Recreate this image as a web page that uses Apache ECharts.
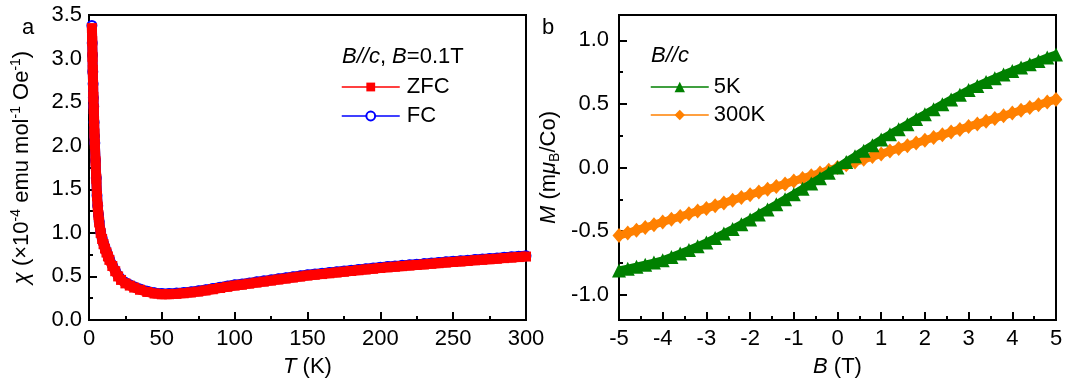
<!DOCTYPE html>
<html><head><meta charset="utf-8">
<script src="https://cdn.jsdelivr.net/npm/echarts@6/dist/echarts.min.js"></script>
<style>html,body{margin:0;padding:0;background:#fff}#c{width:1066px;height:389px}</style>
</head><body><div id="c"></div>
<script>
// ---- Panel a: susceptibility vs temperature ----
const tempK = [2,2.2,2.4,2.6,2.8,3,3.25,3.5,3.75,4,4.5,5,5.5,6,6.5,7,8,9,10,11,12,13,14,16,18,20,22,25,28,31,35,40,45,50,
  55,60,65,70,75,80,85,90,95,100,105,110,115,120,125,130,135,140,145,150,155,160,165,170,175,180,185,190,195,200,
  205,210,215,220,225,230,235,240,245,250,255,260,265,270,275,280,285,290,295,300];
const chiZFC = [3.35,3.20,3.02,2.87,2.70,2.56,2.42,2.28,2.14,2.02,1.82,1.62,1.42,1.30,1.20,1.12,1.00,0.93,0.87,0.82,0.775,0.73,0.69,0.62,0.56,0.50,0.46,0.42,0.395,0.372,0.347,0.322,0.304,0.295,
  0.296,0.300,0.307,0.316,0.326,0.339,0.353,0.367,0.381,0.395,0.405,0.417,0.429,0.44,0.452,0.464,0.475,0.487,0.498,0.51,0.519,0.527,0.536,0.545,0.554,0.562,0.571,0.58,0.588,0.597,
  0.604,0.611,0.618,0.625,0.632,0.638,0.645,0.652,0.659,0.666,0.672,0.678,0.685,0.691,0.697,0.703,0.71,0.716,0.722,0.728];
const chiFC = [3.38,3.18,3.04,2.85,2.71,2.55,2.45,2.27,2.11,2.03,1.83,1.63,1.43,1.31,1.21,1.13,1.01,0.94,0.88,0.83,0.785,0.74,0.70,0.63,0.57,0.51,0.47,0.43,0.404,0.381,0.356,0.331,0.313,0.304,
  0.305,0.309,0.316,0.325,0.335,0.348,0.362,0.376,0.39,0.404,0.414,0.426,0.438,0.449,0.461,0.473,0.484,0.496,0.507,0.519,0.528,0.536,0.545,0.554,0.563,0.571,0.58,0.589,0.597,0.606,
  0.613,0.62,0.627,0.634,0.641,0.647,0.654,0.661,0.668,0.675,0.681,0.687,0.694,0.7,0.706,0.712,0.719,0.725,0.731,0.737];

// ---- Panel b: magnetization vs field ----
const fieldT = [-5,-4.8,-4.6,-4.4,-4.2,-4,-3.8,-3.6,-3.4,-3.2,-3,-2.8,-2.6,-2.4,-2.2,-2,-1.8,-1.6,-1.4,-1.2,-1,-0.8,-0.6,-0.4,-0.2,0,
  0.2,0.4,0.6,0.8,1,1.2,1.4,1.6,1.8,2,2.2,2.4,2.6,2.8,3,3.2,3.4,3.6,3.8,4,4.2,4.4,4.6,4.8,5];
const m5K = [-0.810,-0.796,-0.781,-0.765,-0.748,-0.730,-0.704,-0.677,-0.649,-0.620,-0.590,-0.555,-0.520,-0.484,-0.447,-0.410,-0.370,-0.330,-0.290,-0.250,-0.210,-0.168,-0.126,-0.084,-0.042,0,
  0.044,0.088,0.132,0.176,0.220,0.261,0.301,0.341,0.381,0.420,0.459,0.498,0.536,0.573,0.610,0.642,0.673,0.703,0.732,0.760,0.787,0.813,0.839,0.865,0.890];
const m300K = [-0.536,-0.515,-0.493,-0.472,-0.450,-0.429,-0.407,-0.386,-0.364,-0.343,-0.322,-0.300,-0.279,-0.257,-0.236,-0.214,-0.193,-0.172,-0.150,-0.129,-0.107,-0.086,-0.064,-0.043,-0.021,0,
  0.021,0.043,0.064,0.086,0.107,0.129,0.150,0.172,0.193,0.214,0.236,0.257,0.279,0.300,0.322,0.343,0.364,0.386,0.407,0.429,0.450,0.472,0.493,0.515,0.536];

const bMajorTicks = [-1,-0.5,0,0.5,1];
const bMinorTicks = [-0.75,-0.25,0.25,0.75];

const FONT = "'Liberation Sans', Arial, sans-serif";
const FS = 22;
const black = '#000';

function pairs(xs, ys){ return xs.map((x,i)=>[x, ys[i]]); }

const rich = {
  i: {fontStyle:'italic', fontSize:FS, fontFamily:FONT, color:black},
  s: {fontSize:14, fontFamily:FONT, color:black, verticalAlign:'top', lineHeight:26},
  b: {fontSize:14, fontFamily:FONT, color:black, verticalAlign:'bottom', lineHeight:26},
  n: {fontSize:FS, fontFamily:FONT, color:black, lineHeight:26}
};
const nameStyle = {fontSize:FS, fontFamily:FONT, color:black, rich};

function baseAxis(extra){
  return Object.assign({
    axisLine:{show:true, onZero:false, lineStyle:{color:black, width:2}},
    axisTick:{show:true, inside:true, length:8, lineStyle:{color:black, width:2}},
    minorTick:{show:true, splitNumber:2, length:4, lineStyle:{color:black, width:2}},
    splitLine:{show:false},
    axisLabel:{color:black, fontSize:FS, fontFamily:FONT, margin:8},
    nameLocation:'middle',
    nameTextStyle:nameStyle
  }, extra);
}

const chart = echarts.init(document.getElementById('c'), null, {renderer:'canvas'});
chart.setOption({
  animation:false,
  backgroundColor:'#fff',
  textStyle:{fontFamily:FONT},
  title:[
    {text:'a', left:17, top:12, textStyle:{fontSize:FS, fontWeight:'normal', fontFamily:FONT, color:black}},
    {text:'b', left:537, top:12, textStyle:{fontSize:FS, fontWeight:'normal', fontFamily:FONT, color:black}},
    {text:'{i|B//c}{n|, }{i|B}{n|=0.1T}', left:337, top:39, textStyle:{fontSize:FS, fontWeight:'normal', fontFamily:FONT, color:black, rich}},
    {text:'{i|B//c}', left:646, top:40, textStyle:{fontSize:FS, fontWeight:'normal', fontFamily:FONT, color:black, rich}}
  ],
  grid:[
    {left:89, top:15, width:437, height:305, show:true, borderColor:black, borderWidth:2, backgroundColor:'transparent'},
    {left:619, top:15, width:437, height:305, show:true, borderColor:black, borderWidth:2, backgroundColor:'transparent'}
  ],
  legend:[
    {data:['ZFC','FC'],
     orient:'vertical', left:336, top:71, itemWidth:58, itemHeight:11, itemGap:7,
     lineStyle:{width:1.5},
     textStyle:{fontSize:FS, fontFamily:FONT, color:black, padding:[0,0,0,2]}},
    {data:['5K','300K'], orient:'vertical', left:645, top:71, itemWidth:58, itemHeight:13, itemGap:6,
     lineStyle:{width:1.5},
     textStyle:{fontSize:FS, fontFamily:FONT, color:black, padding:[0,0,0,0]}}
  ],
  xAxis:[
    baseAxis({gridIndex:0, type:'value', position:'bottom', min:0, max:300, interval:50, name:'{i|T}{n| (K)}', nameGap:34}),
    baseAxis({gridIndex:1, type:'value', position:'bottom', min:-5, max:5, interval:1, name:'{i|B}{n| (T)}', nameGap:34})
  ],
  yAxis:[
    baseAxis({gridIndex:0, type:'value', position:'left', min:0, max:3.5, interval:0.5, name:'{i|χ}{n| (×10}{s|-4}{n| emu mol}{s|-1}{n| Oe}{s|-1}{n|)}', nameGap:54,
      axisLabel:{color:black, fontSize:FS, fontFamily:FONT, margin:7, formatter:v=>v.toFixed(1)}}),
    baseAxis({gridIndex:1, type:'value', position:'left', min:-1.2, max:1.2, name:'{i|M}{n| (m}{i|μ}{b|B}{n|/Co)}', nameGap:57,
      minorTick:{show:false},
      axisTick:{show:true, inside:true, length:8, lineStyle:{color:black, width:2}, customValues:bMajorTicks},
      axisLabel:{color:black, fontSize:FS, fontFamily:FONT, margin:10, customValues:bMajorTicks, formatter:v=>v.toFixed(1)}}),
    {gridIndex:1, type:'value', position:'left', offset:0, min:-1.2, max:1.2,
      axisLine:{show:false, onZero:false}, splitLine:{show:false},
      axisLabel:{show:false}, minorTick:{show:false},
      axisTick:{show:true, inside:true, length:4, lineStyle:{color:black, width:2}, customValues:bMinorTicks}}
  ],
  series:[
    {name:'FC', type:'line', xAxisIndex:0, yAxisIndex:0, data:pairs(tempK, chiFC),
     symbol:'emptyCircle', symbolSize:9, color:'#0000FF', lineStyle:{color:'#0000FF', width:10},
     itemStyle:{color:'#0000FF', borderWidth:1}, z:2},
    {name:'ZFC', type:'line', xAxisIndex:0, yAxisIndex:0, data:pairs(tempK, chiZFC),
     symbol:'rect', symbolSize:10, color:'#FF0000', lineStyle:{color:'#FF0000', width:10},
     itemStyle:{color:'#FF0000'}, z:3},
    {name:'300K', type:'line', xAxisIndex:1, yAxisIndex:1, data:pairs(fieldT, m300K),
     symbol:'diamond', symbolSize:[13,15], color:'#FF8000', lineStyle:{color:'#FF8000', width:8},
     itemStyle:{color:'#FF8000'}, z:2},
    {name:'5K', type:'line', xAxisIndex:1, yAxisIndex:1, data:pairs(fieldT, m5K),
     symbol:'triangle', symbolSize:[14,14], color:'#008000', lineStyle:{color:'#008000', width:8},
     itemStyle:{color:'#008000'}, z:3}
  ]
});
</script></body></html>
